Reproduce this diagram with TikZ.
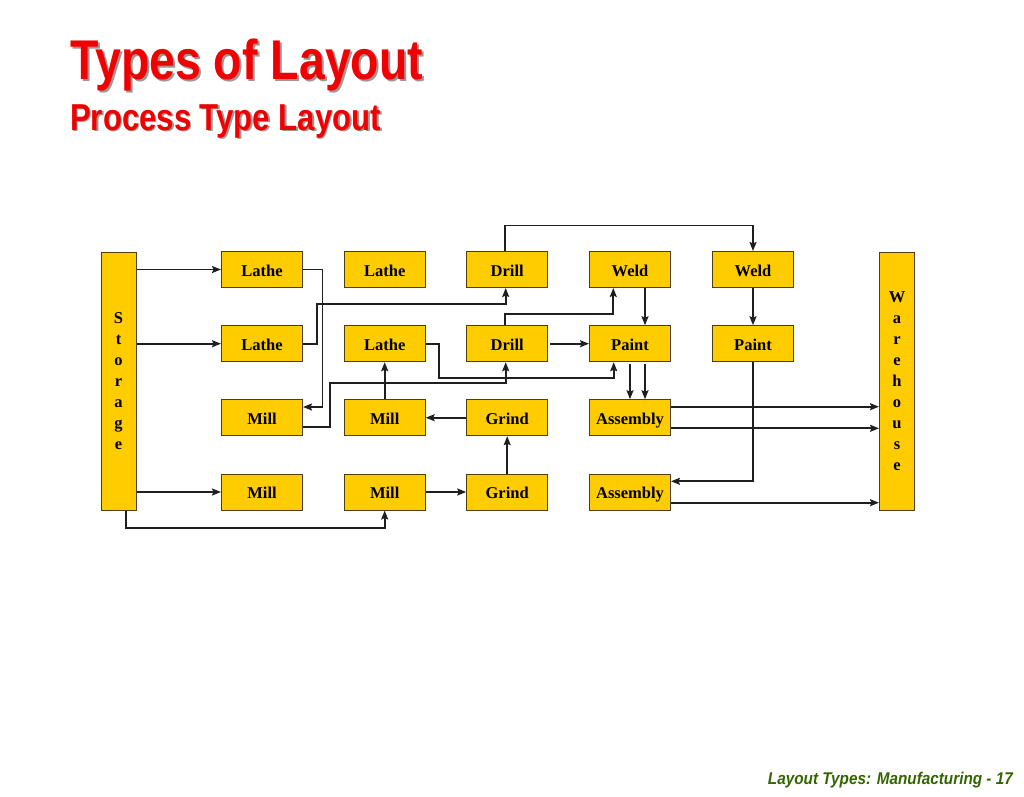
\documentclass[tikz,border=0pt]{standalone}
\usepackage{fontspec}
\usetikzlibrary{arrows.meta}
\setmainfont{Liberation Serif}
\newfontfamily\headfont{Liberation Sans}
\definecolor{boxgold}{RGB}{255,204,0}
\definecolor{boxedge}{RGB}{80,62,10}
\definecolor{footgreen}{RGB}{51,102,0}
\definecolor{headred}{RGB}{240,0,0}
\tikzset{
  box/.style={draw=boxedge,fill=boxgold,line width=1pt,minimum width=81pt,minimum height=36pt,inner sep=0pt,
    text height=13pt,text depth=0pt,font=\fontsize{16.5}{20}\selectfont\bfseries},
  bar/.style={draw=boxedge,fill=boxgold,line width=1pt,minimum width=35pt,minimum height=258pt,inner sep=0pt,align=center,
    font=\fontsize{16.5}{21}\selectfont\bfseries},
  flow/.style={-{Stealth[length=9pt,width=7pt,inset=1.5pt]},line width=1.7pt,draw=black!88}
}
\begin{document}
\begin{tikzpicture}[x=1pt,y=-1pt]
 \useasboundingbox[fill=white] (0,0) rectangle (1024,796);
 % headings
 \node[anchor=base west,inner sep=0pt,text=black!40] (titleshade) at (72,81.5) {\headfont\bfseries\fontsize{56}{60}\selectfont\scalebox{0.83}[1]{Types of Layout}};
 \node[anchor=base west,inner sep=0pt,text=headred] (title) at (70,79.5) {\headfont\bfseries\fontsize{56}{60}\selectfont\scalebox{0.83}[1]{Types of Layout}};
 \node[anchor=base west,inner sep=0pt,text=black!40] (subshade) at (71.5,131.5) {\headfont\bfseries\fontsize{37.5}{40}\selectfont\scalebox{0.83}[1]{Process Type Layout}};
 \node[anchor=base west,inner sep=0pt,text=headred] (sub) at (70,130) {\headfont\bfseries\fontsize{37.5}{40}\selectfont\scalebox{0.83}[1]{Process Type Layout}};
 \node[anchor=base east,inner sep=0pt,text=footgreen] (foot) at (1013,784.3) {\headfont\bfseries\itshape\fontsize{17}{20}\selectfont\scalebox{0.9}[1]{Layout Types: Manufacturing - 17}};
 % storage and warehouse
 \node[bar] (st) at (118.5,381) {S\\t\\o\\r\\a\\g\\e};
 \node[bar] (wh) at (897,381) {W\\a\\r\\e\\h\\o\\u\\s\\e};
 % departments
 \node[box] (la11) at (262,269.5) {Lathe};
 \node[box] (la12) at (384.7,269.5) {Lathe};
 \node[box] (dr13) at (507.2,269.5) {Drill};
 \node[box] (we14) at (630,269.5) {Weld};
 \node[box] (we15) at (753,269.5) {Weld};
 \node[box] (la21) at (262,343.7) {Lathe};
 \node[box] (la22) at (384.7,343.7) {Lathe};
 \node[box] (dr23) at (507.2,343.7) {Drill};
 \node[box] (pa24) at (630,343.7) {Paint};
 \node[box] (pa25) at (753,343.7) {Paint};
 \node[box] (mi31) at (262,417.7) {Mill};
 \node[box] (mi32) at (384.7,417.7) {Mill};
 \node[box] (gr33) at (507.2,417.7) {Grind};
 \node[box] (as34) at (630,417.7) {Assembly};
 \node[box] (mi41) at (262,492) {Mill};
 \node[box] (mi42) at (384.7,492) {Mill};
 \node[box] (gr43) at (507.2,492) {Grind};
 \node[box] (as44) at (630,492) {Assembly};
 % flows
 \draw[flow] (st.east |- la11) -- (la11.west);
 \draw[flow] (st.east |- la21) -- (la21.west);
 \draw[flow] (st.east |- mi41) -- (mi41.west);
 \draw[flow] ([xshift=7.5]st.south) -- ++(0,17.3) -| (mi42.south);
 \draw[flow] (la11.east) -- ++(19.5,0) |- ([yshift=10.7]mi31.east);
 \draw[flow] (la21.east) -- ++(14,0) -- ++(0,-39.7) -| ([xshift=-1.5]dr13.south);
 \draw[flow] ([yshift=-9]mi31.east) -- ++(27,0) -- ++(0,-44) -| ([xshift=-1.5]dr23.south);
 \draw[flow] (la22.east) -- ++(13,0) -- ++(0,34.6) -| ([xshift=-16.3]pa24.south);
 \draw[flow] (mi32.north) -- (la22.south);
 \draw[flow] (gr33.west) -- (mi32.east);
 \draw[flow] (gr43.north) -- (gr33.south);
 \draw[flow] (mi42.east) -- (gr43.west);
 \draw[flow] ([xshift=-2]dr13.north) -- ++(0,-25.5) -| (we15.north);
 \draw[flow] ([xshift=-2]dr23.north) -- ++(0,-11.4) -| ([xshift=-16.7]we14.south);
 \draw[flow] ([xshift=15]we14.south) -- ([xshift=15]pa24.north);
 \draw[flow,shorten <=2pt] (dr23.east) -- (pa24.west);
 \draw[flow,shorten <=1.5pt] (pa24.south) -- (as34.north);
 \draw[flow,shorten <=1.5pt] ([xshift=15]pa24.south) -- ([xshift=15]as34.north);
 \draw[flow] (we15.south) -- (pa25.north);
 \draw[flow] (pa25.south) |- ([yshift=10.7]as44.east);
 \coordinate (as34up) at ([yshift=11]as34.east);
 \coordinate (as34dn) at ([yshift=-10.6]as34.east);
 \coordinate (as44dn) at ([yshift=-10.7]as44.east);
 \draw[flow] (as34up) -- (as34up -| wh.west);
 \draw[flow] (as34dn) -- (as34dn -| wh.west);
 \draw[flow] (as44dn) -- (as44dn -| wh.west);
\end{tikzpicture}
\end{document}
